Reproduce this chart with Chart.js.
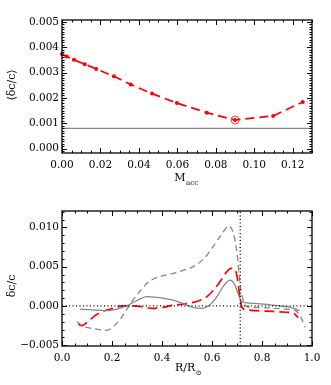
<!DOCTYPE html>
<html>
<head>
<meta charset="utf-8">
<script src="https://cdn.jsdelivr.net/npm/chart.js@4.4.1/dist/chart.umd.min.js"></script>
<style>
body { margin: 0; background: #fff; }
canvas { position: absolute; left: 0; }
#topChart { top: 0; }
#bottomChart { top: 195px; }
</style>
</head>
<body>
<canvas id="topChart" width="331" height="195"></canvas>
<canvas id="bottomChart" width="331" height="190"></canvas>
<script>
// top panel: mean sound-speed difference vs accreted mass
var mAcc = [0, 0.0024, 0.0062, 0.0118, 0.0178, 0.027, 0.0357, 0.0468, 0.0597, 0.0753, 0.09, 0.1098, 0.1252];
var meanDc = [0.00373, 0.00363, 0.00350, 0.00333, 0.00314, 0.00285, 0.00253, 0.00217, 0.00180, 0.00142, 0.00113, 0.00129, 0.00184];
var bestM = [0.09];
var bestDc = [0.00113];
var refLevel = [0.0008, 0.0008];
var refM = [0, 0.13];
var topXTicks = [0, 0.02, 0.04, 0.06, 0.08, 0.10, 0.12];
var topYTicks = [0, 0.001, 0.002, 0.003, 0.004, 0.005];

// bottom panel: dc/c profiles
var rSolid = [0.072, 0.12, 0.178, 0.22, 0.258, 0.30, 0.338, 0.38, 0.418, 0.46, 0.50, 0.53, 0.56, 0.59, 0.62, 0.645, 0.673, 0.69, 0.704, 0.718, 0.737, 0.78, 0.82, 0.87, 0.92, 0.95];
var dcSolid = [-0.0004, -0.0005, -0.0006, -0.0004, 0.0, 0.0007, 0.0012, 0.0011, 0.0009, 0.0006, 0.0001, -0.0002, -0.0003, 0.0001, 0.0012, 0.0025, 0.0033, 0.0028, 0.0016, 0.0006, 0.0004, 0.0003, 0.0002, 0.0, -0.0002, -0.0006];
var rRed = [0.065, 0.079, 0.11, 0.138, 0.17, 0.205, 0.24, 0.28, 0.32, 0.36, 0.40, 0.445, 0.50, 0.55, 0.58, 0.605, 0.63, 0.655, 0.675, 0.69, 0.70, 0.71, 0.72, 0.74, 0.78, 0.84, 0.90, 0.925, 0.945];
var dcRed = [-0.0023, -0.0025, -0.0018, -0.0011, -0.0006, -0.0003, 0.0, 0.0, -0.0001, -0.0003, -0.0002, 0.0001, 0.0003, 0.0007, 0.0012, 0.0020, 0.0030, 0.0042, 0.0048, 0.0047, 0.0038, 0.0015, -0.0002, -0.0005, -0.0006, -0.0007, -0.0008, -0.0009, -0.0015];
var rGrey = [0.06, 0.085, 0.13, 0.178, 0.21, 0.235, 0.258, 0.285, 0.31, 0.34, 0.37, 0.41, 0.45, 0.49, 0.53, 0.57, 0.605, 0.64, 0.668, 0.685, 0.70, 0.712, 0.724, 0.74, 0.80, 0.85, 0.90, 0.935, 0.955, 0.972];
var dcGrey = [-0.0020, -0.0026, -0.0029, -0.0031, -0.0025, -0.0016, -0.0005, 0.0008, 0.0018, 0.0029, 0.0035, 0.0039, 0.0042, 0.0046, 0.0051, 0.0061, 0.0076, 0.0092, 0.0102, 0.0093, 0.0068, 0.0028, 0.0008, -0.0001, -0.0002, -0.0003, -0.0004, -0.0006, -0.0014, -0.0027];
var bczR = 0.713;
var botXTicks = [0, 0.2, 0.4, 0.6, 0.8, 1.0];
var botYTicks = [-0.005, 0, 0.005, 0.010];

var tickFont = { family: 'DejaVu Serif', size: 10.5 };
var grey = '#858585';

function pts(xs, ys) {
	return xs.map(function(x, i){ return { x: x, y: ys[i] }; });
}

function fmt(d) {
	return function(v) {
		var s = Math.abs(v).toFixed(d);
		return v < -1e-12 ? '\u2212' + s : s;
	};
}

// IDL-like box with inward ticks on all four sides
function boxPlugin(xMinor, yMinor, titles) {
	return {
		id: 'box',
		afterDraw: function(chart) {
			var ctx = chart.ctx, a = chart.chartArea;
			var xs = chart.scales.x, ys = chart.scales.y;
			ctx.save();
			ctx.strokeStyle = '#000';
			ctx.lineWidth = 1.3;
			ctx.strokeRect(a.left, a.top, a.right - a.left, a.bottom - a.top);
			ctx.lineWidth = 1;
			ctx.beginPath();
			var v, p, len;
			var n0 = Math.ceil(xs.min / xMinor - 1e-6);
			for (var i = n0; i * xMinor <= xs.max + 1e-9; i++) {
				v = i * xMinor;
				p = Math.round(xs.getPixelForValue(v)) + 0.5;
				len = xs.ticks.some(function(t){ return Math.abs(t.value - v) < xMinor / 10; }) ? 5 : 2.5;
				ctx.moveTo(p, a.bottom); ctx.lineTo(p, a.bottom - len);
				ctx.moveTo(p, a.top); ctx.lineTo(p, a.top + len);
			}
			n0 = Math.ceil(ys.min / yMinor - 1e-6);
			for (var j = n0; j * yMinor <= ys.max + 1e-12; j++) {
				v = j * yMinor;
				p = Math.round(ys.getPixelForValue(v)) + 0.5;
				len = ys.ticks.some(function(t){ return Math.abs(t.value - v) < yMinor / 10; }) ? 5 : 2.5;
				ctx.moveTo(a.left, p); ctx.lineTo(a.left + len, p);
				ctx.moveTo(a.right, p); ctx.lineTo(a.right - len, p);
			}
			ctx.stroke();

			ctx.fillStyle = '#000';
			// x title with subscript
			ctx.textAlign = 'left';
			ctx.textBaseline = 'alphabetic';
			ctx.font = '11px "DejaVu Serif"';
			var w = ctx.measureText(titles.x).width;
			ctx.font = '7px "DejaVu Serif"';
			var ws = ctx.measureText(titles.xSub).width;
			var x0 = titles.xCenter - (w + ws) / 2;
			ctx.font = '11px "DejaVu Serif"';
			ctx.fillText(titles.x, x0, titles.xBase);
			ctx.font = '7px "DejaVu Serif"';
			ctx.fillText(titles.xSub, x0 + w + 0.5, titles.xBase + 4);
			// y title, rotated
			ctx.translate(12, titles.yCenter);
			ctx.rotate(-Math.PI / 2);
			ctx.textAlign = 'center';
			ctx.textBaseline = 'middle';
			ctx.font = '11px "DejaVu Serif"';
			ctx.fillText(titles.y, 0, 0);
			ctx.restore();
		}
	};
}

function axis(min, max, ticks, digits, fitSize, pad, isX) {
	return {
		type: 'linear',
		min: min,
		max: max,
		grid: { display: false, drawTicks: false },
		border: { display: false },
		afterBuildTicks: function(s){ s.ticks = ticks.map(function(v){ return { value: v }; }); },
		afterFit: function(s){ if (isX) { s.height = fitSize; } else { s.width = fitSize; } },
		ticks: { font: tickFont, color: '#000', padding: pad, autoSkip: false, maxRotation: 0, callback: fmt(digits) }
	};
}

var common = {
	responsive: false,
	animation: false,
	devicePixelRatio: 1,
	plugins: { legend: { display: false }, tooltip: { enabled: false } }
};

new Chart(document.getElementById('topChart').getContext('2d'), {
	type: 'line',
	data: {
		datasets: [
			{
				data: pts(refM, refLevel),
				borderColor: grey, borderWidth: 1.3, pointRadius: 0
			},
			{
				data: pts(mAcc, meanDc),
				borderColor: '#ff0000', backgroundColor: '#ff0000', borderWidth: 1.7,
				borderDash: [9, 5], pointRadius: 2, pointBorderWidth: 0, clip: false
			},
			{
				data: pts(bestM, bestDc),
				showLine: false, pointRadius: 4, pointBorderWidth: 1,
				pointBorderColor: '#ff4040', pointBackgroundColor: 'rgba(0,0,0,0)'
			}
		]
	},
	options: Object.assign({}, common, {
		layout: { padding: { top: 20, right: 19, left: 0, bottom: 0 } },
		scales: {
			x: axis(0, 0.13, topXTicks, 2, 42, 6, true),
			y: axis(-0.00017, 0.00507, topYTicks, 3, 62, 3, false)
		}
	}),
	plugins: [boxPlugin(0.005, 0.0001, { x: 'M', xSub: 'acc', xCenter: 186, xBase: 181, y: '\u27e8\u03b4c/c\u27e9', yCenter: 85 })]
});

new Chart(document.getElementById('bottomChart').getContext('2d'), {
	type: 'line',
	data: {
		datasets: [
			{
				data: pts([0, 1], [0, 0]),
				borderColor: '#000', borderWidth: 1.3, borderDash: [1, 2.5], pointRadius: 0
			},
			{
				data: pts([bczR, bczR], [-0.0051, 0.0121]),
				borderColor: '#000', borderWidth: 1.3, borderDash: [1, 2.5], pointRadius: 0
			},
			{
				data: pts(rGrey, dcGrey),
				borderColor: grey, borderWidth: 1.3, borderDash: [6, 4], pointRadius: 0,
				cubicInterpolationMode: 'monotone'
			},
			{
				data: pts(rSolid, dcSolid),
				borderColor: grey, borderWidth: 1.3, pointRadius: 0,
				cubicInterpolationMode: 'monotone'
			},
			{
				data: pts(rRed, dcRed),
				borderColor: '#ff0000', borderWidth: 1.7, borderDash: [10, 5], pointRadius: 0,
				cubicInterpolationMode: 'monotone'
			}
		]
	},
	options: Object.assign({}, common, {
		layout: { padding: { top: 16, right: 19, left: 0, bottom: 0 } },
		scales: {
			x: axis(0, 1, botXTicks, 1, 39, 6, true),
			y: axis(-0.0051, 0.0121, botYTicks, 3, 62, 3, false)
		}
	}),
	plugins: [boxPlugin(0.05, 0.001, { x: 'R/R', xSub: '\u2299', xCenter: 188, xBase: 176, y: '\u03b4c/c', yCenter: 91 })]
});
</script>
</body>
</html>
